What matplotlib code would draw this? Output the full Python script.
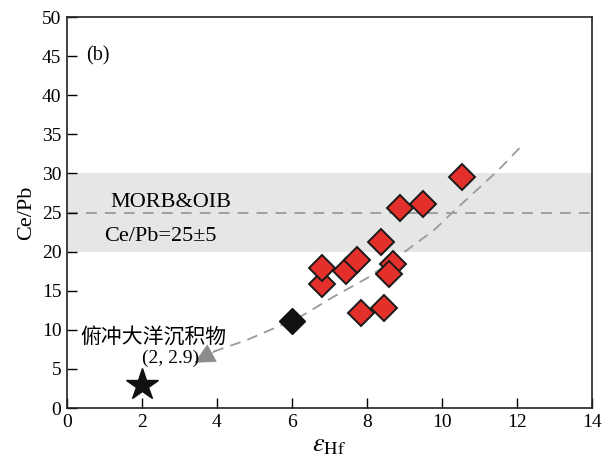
import matplotlib
matplotlib.use("Agg")
import matplotlib.pyplot as plt

# Sample data: epsilon Hf vs Ce/Pb
eps_hf = [10.53, 8.88, 9.49, 8.37, 6.80, 6.80, 7.44, 7.73, 8.69, 8.59, 7.84, 8.45]
ce_pb = [29.5, 25.6, 26.1, 21.2, 15.9, 17.9, 17.5, 18.9, 18.4, 17.1, 12.1, 12.8]

# Separate black sample
black_x = [6.0]
black_y = [11.1]

# Subducted oceanic sediment end-member
sed_x = [2.0]
sed_y = [2.9]

# Mixing trend (dashed curve)
curve_x = [3.9, 4.8, 6.2, 7.1, 8.0, 8.9, 9.8, 10.3, 11.5, 12.1]
curve_y = [7.2, 8.7, 11.6, 14.2, 16.6, 19.6, 22.8, 25.1, 30.4, 33.4]

# MORB & OIB range
band_lo, band_mid, band_hi = 20, 25, 30

xticks = [0, 2, 4, 6, 8, 10, 12, 14]
yticks = [0, 5, 10, 15, 20, 25, 30, 35, 40, 45, 50]

plt.rcParams["font.family"] = ["Liberation Serif", "DejaVu Serif"]
plt.rcParams["mathtext.fontset"] = "stix"

fig = plt.figure(figsize=(6.05, 4.57), dpi=100)
ax = fig.add_axes([0.1107, 0.1072, 0.8678, 0.8556])

ax.axhspan(band_lo, band_hi, color="#e6e6e6", lw=0, zorder=0)
ax.axhline(band_mid, color="#9a9a9a", lw=1.3, dashes=(6, 4.5), zorder=1)

ax.plot(curve_x, curve_y, color="#9a9a9a", lw=1.3, dashes=(6, 4), zorder=2)
ax.annotate("", xy=(3.4, 5.8), xytext=(4.0, 7.35),
            arrowprops=dict(arrowstyle="-|>", color="#8c8c8c", lw=0.5,
                            mutation_scale=34, shrinkA=0, shrinkB=0),
            zorder=2)

for x, y in zip(eps_hf, ce_pb):
    ax.plot([x], [y], marker="D", ms=13.5, mfc="#e3302b", mec="#1a1a1a",
            mew=1.4, ls="none", zorder=3)

ax.plot(black_x, black_y, marker="D", ms=13.5, mfc="#111111", mec="#111111",
        mew=1.0, ls="none", zorder=3)
ax.plot(sed_x, sed_y, marker="*", ms=24, mfc="#111111", mec="#111111",
        ls="none", zorder=3)

ax.text(0.5, 45.0, "(b)", fontsize=14.5, va="center", ha="left")
ax.text(1.15, 25.7, "MORB&OIB", fontsize=16, va="baseline", ha="left")
ax.text(1.0, 21.3, "Ce/Pb=25±5", fontsize=16, va="baseline", ha="left")
ax.text(0.36, 9.0, "俯冲大洋沉积物", fontsize=15, va="center", ha="left",
        family=["Noto Sans CJK SC", "DejaVu Sans"])
ax.text(2.0, 6.4, "(2, 2.9)", fontsize=14, va="center", ha="left")

ax.set_xlim(0, 14)
ax.set_ylim(0, 50)
ax.set_xticks(xticks)
ax.set_yticks(yticks)
ax.tick_params(direction="in", length=7, width=1.0, labelsize=14,
               top=False, right=False, pad=4)
for s in ax.spines.values():
    s.set_linewidth(1.2)
    s.set_color("#222222")

ax.set_ylabel("Ce/Pb", fontsize=16, labelpad=4)
ax.set_xlabel(r"$\varepsilon_{\rm Hf}$", fontsize=19, labelpad=3)

fig.savefig("out.png", dpi=100)
